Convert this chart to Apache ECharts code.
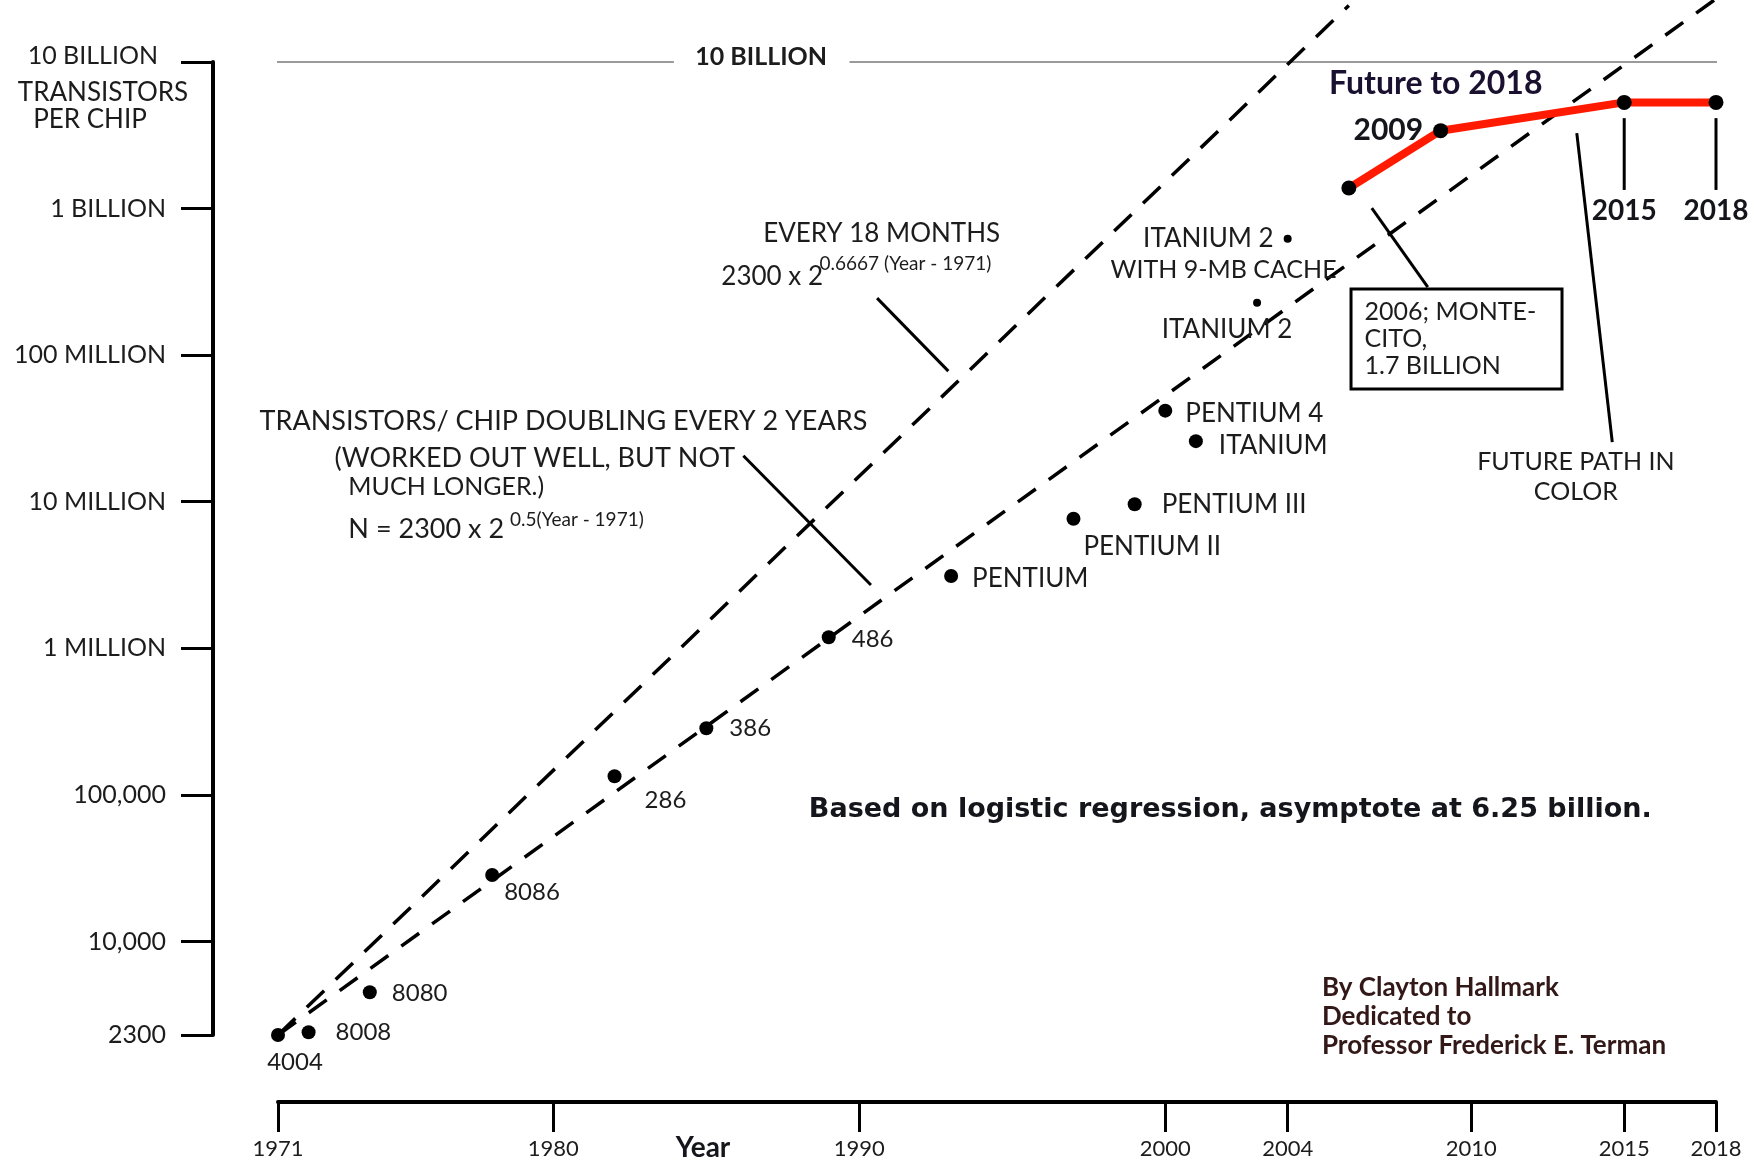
<!DOCTYPE html>
<html><head><meta charset="utf-8">
<script src="https://cdn.jsdelivr.net/npm/echarts@6/dist/echarts.min.js"></script>
<style>html,body{margin:0;padding:0;background:#fff}#chart{width:1764px;height:1167px}</style>
</head><body><div id="chart"></div>
<script>
// ---------- data ----------
const xTickValues = [1971, 1980, 1990, 2000, 2004, 2010, 2015, 2018];
const yTickValues = [2300, 1e4, 1e5, 1e6, 1e7, 1e8, 1e9, 1e10];
const yTickLabels = ['2300', '10,000', '100,000', '1 MILLION', '10 MILLION', '100 MILLION', '1 BILLION', '10 BILLION'];

const chipNames  = ['4004', '8008', '8080', '8086', '286', '386', '486', 'PENTIUM', 'PENTIUM II', 'PENTIUM III', 'PENTIUM 4', 'ITANIUM', 'ITANIUM 2', 'ITANIUM 2'];
const chipYears  = [1971, 1972, 1974, 1978, 1982, 1985, 1989, 1993, 1997, 1999, 2000, 2001, 2003, 2004];
const chipCounts = [2300, 2400, 4500, 28400, 134000, 285000, 1190000, 3110000, 7660000, 9600000, 41800000, 25900000, 228000000, 623000000];

const futureYears  = [2006, 2009, 2015, 2018];
const futureCounts = [1.38e9, 3.4e9, 5.3e9, 5.3e9];

const trend2yrYears   = [1971, 2018];
const trend2yrCounts  = [2300, 2.7e10];
const trend18moYears  = [1971, 2006];
const trend18moCounts = [2300, 2.43e10];

// ---------- layout / styling (annotation anchors in data units) ----------
const FONT = 'Lato, "Open Sans", sans-serif';
const INK = '#1c1c1c';

const chipLabelLayout = [
  {position: 'bottom', distance: 8, offset: [17, 0], fontSize: 24},
  {position: 'right', distance: 20, offset: [0, 0], fontSize: 24},
  {position: 'right', distance: 15, offset: [0, 1], fontSize: 24},
  {position: 'right', distance: 5, offset: [0, 17], fontSize: 24},
  {position: 'right', distance: 23, offset: [0, 24], fontSize: 24},
  {position: 'right', distance: 16, offset: [0, 0], fontSize: 24},
  {position: 'right', distance: 16, offset: [0, 2], fontSize: 24},
  {position: 'right', distance: 14, offset: [0, 3], fontSize: 26},
  {position: 'right', distance: 3, offset: [0, 28], fontSize: 26},
  {position: 'right', distance: 20, offset: [0, 0], fontSize: 26},
  {position: 'right', distance: 13, offset: [0, 3], fontSize: 26},
  {position: 'right', distance: 16, offset: [0, 4], fontSize: 26},
  {position: 'bottom', distance: 10, offset: [-30, 0], fontSize: 26},
  {position: 'left', distance: 10, offset: [0, 0], fontSize: 26}
];
const chipSymbolSizes = [14, 14, 14, 14, 14, 14, 14, 14, 14, 14, 14, 14, 8, 8];

const notes = [
  {t: '10 BILLION', x: 1986.79, y: 1.09e10, pos: 'inside', size: 25, weight: 'bold'},
  {t: 'EVERY 18 MONTHS', x: 1990.73, y: 6.8e8, pos: 'inside', size: 26},
  {t: '2300 x 2', x: 1985.49, y: 3.46e8, pos: 'right', size: 26},
  {t: '0.6667 (Year - 1971)', x: 1988.70, y: 4.18e8, pos: 'right', size: 19},
  {t: 'TRANSISTORS/ CHIP DOUBLING EVERY 2 YEARS', x: 1980.33, y: 3.55e7, pos: 'inside', size: 27},
  {t: '(WORKED OUT WELL, BUT NOT', x: 1972.85, y: 1.985e7, pos: 'right', size: 27},
  {t: 'MUCH LONGER.)', x: 1973.30, y: 1.258e7, pos: 'right', size: 25},
  {t: 'N = 2300 x 2', x: 1973.30, y: 6.5e6, pos: 'right', size: 27},
  {t: '0.5(Year - 1971)', x: 1978.58, y: 7.49e6, pos: 'right', size: 19},
  {t: 'Based on logistic regression, asymptote at 6.25 billion.', x: 1988.35, y: 78800, pos: 'right', size: 27, weight: 'bold', color: '#15151c', family: '"DejaVu Sans", sans-serif'},
  {t: 'By Clayton Hallmark\nDedicated to\nProfessor Frederick E. Terman', x: 2005.12, y: 3052, pos: 'right', size: 26, weight: 'bold', color: '#331818', lh: 29, align: 'left'},
  {t: 'Future to 2018', x: 2005.35, y: 7.06e9, pos: 'right', size: 32, weight: 'bold', color: '#1a1030'},
  {t: '2015', x: 2015, y: 9.6e8, pos: 'inside', size: 28, weight: 'bold', color: '#15151c'},
  {t: '2018', x: 2018, y: 9.6e8, pos: 'inside', size: 28, weight: 'bold', color: '#15151c'},
  {t: 'WITH 9-MB CACHE', x: 1998.21, y: 3.8e8, pos: 'right', size: 25},
  {t: 'FUTURE PATH IN\nCOLOR', x: 2013.42, y: 1.47e7, pos: 'inside', size: 25, lh: 30, align: 'center'},
  {t: '2006; MONTE-\nCITO,\n1.7 BILLION', x: 2006.12, y: 1.287e8, pos: 'right', size: 25, lh: 27, align: 'left', box: true}
];

const leaders = [
  [1990.58, 2.45e8, 1992.91, 7.78e7],
  [1986.21, 2.06e7, 1990.38, 2.70e6],
  [2006.75, 1.006e9, 2008.58, 2.91e8],
  [2013.45, 3.27e9, 2014.61, 2.55e7],
  [2015, 4.14e9, 2015, 1.34e9],
  [2018, 4.14e9, 2018, 1.34e9]
];

// ---------- build ----------
const series = [];

// grey 10-billion guide line (with gap for its title)
series.push({
  type: 'line', clip: false, silent: true, symbol: 'none', z: 1,
  lineStyle: {color: '#9a9a9a', width: 2},
  data: [[1969.45, 1e10], [1983.94, 1e10], [1986.8, '-'], [1989.68, 1e10], [2018.54, 1e10]]
});

// trend lines
series.push({
  type: 'line', clip: false, silent: true, symbol: 'none', z: 2,
  lineStyle: {color: '#000', width: 3.5, type: [24, 16]},
  data: trend18moYears.map((y, i) => [y, trend18moCounts[i]])
});
series.push({
  type: 'line', clip: false, silent: true, symbol: 'none', z: 2,
  lineStyle: {color: '#000', width: 3.5, type: [22, 16]},
  data: trend2yrYears.map((y, i) => [y, trend2yrCounts[i]])
});

// leader lines
leaders.forEach(l => series.push({
  type: 'line', clip: false, silent: true, symbol: 'none', z: 3,
  lineStyle: {color: '#000', width: 3},
  data: [[l[0], l[1]], [l[2], l[3]]]
}));

// future path
series.push({
  type: 'line', clip: false, z: 5,
  symbol: 'circle', symbolSize: 15, showAllSymbol: true,
  itemStyle: {color: '#000', opacity: 1},
  lineStyle: {color: '#ff1a00', width: 8},
  data: futureYears.map((y, i) => {
    const item = {value: [y, futureCounts[i]]};
    if (y === 2009) {
      item.label = {show: true, position: 'left', distance: 10, formatter: String(y),
        fontFamily: FONT, fontSize: 30, fontWeight: 'bold', color: '#15151c'};
    }
    return item;
  })
});

// chips
series.push({
  type: 'scatter', clip: false, z: 6,
  itemStyle: {color: '#000', opacity: 1},
  data: chipNames.map((n, i) => {
    const L = chipLabelLayout[i];
    return {
      name: n, value: [chipYears[i], chipCounts[i]], symbolSize: chipSymbolSizes[i],
      label: {show: true, formatter: n, position: L.position, distance: L.distance, offset: L.offset,
        fontFamily: FONT, fontSize: L.fontSize, color: INK}
    };
  })
});

// annotation texts
series.push({
  type: 'scatter', clip: false, silent: true, z: 7, symbolSize: 0,
  itemStyle: {opacity: 1},
  data: notes.map(n => ({
    value: [n.x, n.y],
    label: Object.assign({
      show: true, formatter: n.t, position: n.pos, distance: 0,
      fontFamily: n.family || FONT, fontSize: n.size, fontWeight: n.weight || 'normal',
      color: n.color || INK, lineHeight: n.lh || Math.round(n.size * 1.25),
      align: n.align
    }, n.box ? {borderColor: '#000', borderWidth: 3, padding: [8, 16, 8, 12], width: 180, backgroundColor: '#fff'} : {})
  }))
});

function yLabel(v) {
  const lv = Math.log10(v);
  let best = 0, bd = 1e9;
  yTickValues.forEach((t, i) => { const d = Math.abs(Math.log10(t) - lv); if (d < bd) { bd = d; best = i; } });
  return best === yTickValues.length - 1 ? '{top|' + yTickLabels[best] + '}' : yTickLabels[best];
}

const option = {
  animation: false,
  backgroundColor: '#fff',
  grid: {left: 278, right: 48, top: 62, bottom: 132, containLabel: false, outerBoundsMode: 'none'},
  xAxis: {
    type: 'value', min: 1971, max: 2018, offset: 67,
    axisLine: {show: true, onZero: false, lineStyle: {color: '#000', width: 4}},
    axisTick: {show: true, customValues: xTickValues, length: 30, lineStyle: {color: '#000', width: 3}},
    axisLabel: {customValues: xTickValues, margin: 36, fontFamily: FONT, fontSize: 22, color: INK,
      formatter: v => String(Math.round(v))},
    splitLine: {show: false}
  },
  yAxis: {
    type: 'log', logBase: 10, min: 2300, max: 1e10, offset: 65,
    axisLine: {show: true, onZero: false, lineStyle: {color: '#000', width: 4}},
    axisTick: {show: true, length: 32, lineStyle: {color: '#000', width: 3}},
    axisLabel: {margin: 47, fontFamily: FONT, fontSize: 25, color: INK, formatter: yLabel,
      rich: {top: {fontFamily: FONT, fontSize: 25, color: INK, padding: [0, 8, 12, 0]}}},
    splitLine: {show: false},
    minorTick: {show: false}
  },
  graphic: [
    {type: 'text', x: 103, y: 93, style: {text: 'TRANSISTORS', font: '26px ' + FONT, fill: INK, align: 'center', verticalAlign: 'middle'}},
    {type: 'text', x: 90, y: 120, style: {text: 'PER CHIP', font: '26px ' + FONT, fill: INK, align: 'center', verticalAlign: 'middle'}},
    {type: 'text', x: 703, y: 1148, style: {text: 'Year', font: 'bold 28px ' + FONT, fill: '#15151c', align: 'center', verticalAlign: 'middle'}}
  ],
  series: series
};

const chart = echarts.init(document.getElementById('chart'), null, {renderer: 'canvas'});
chart.setOption(option);
</script>
</body></html>
